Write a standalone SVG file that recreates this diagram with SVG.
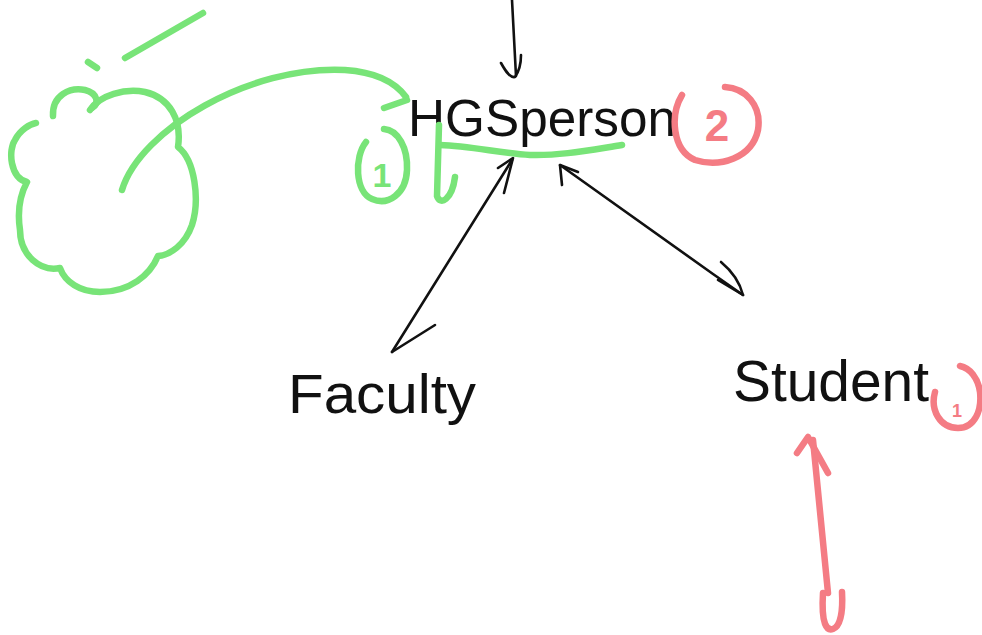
<svg xmlns="http://www.w3.org/2000/svg" width="982" height="635" viewBox="0 0 982 635">
<style>
.bg{fill:#ffffff}
.lbl{font-family:"Liberation Sans","DejaVu Sans",sans-serif;fill:#111111}
.g{fill:none;stroke:#78e478;stroke-width:6.5;stroke-linecap:round;stroke-linejoin:round}
.r{fill:none;stroke:#f47c84;stroke-width:6.5;stroke-linecap:round;stroke-linejoin:round}
.k{fill:none;stroke:#111111;stroke-width:2.6;stroke-linecap:round;stroke-linejoin:round}
.gt{font-family:"Liberation Sans","DejaVu Sans",sans-serif;fill:#78e478;font-weight:bold}
.rt{font-family:"Liberation Sans","DejaVu Sans",sans-serif;fill:#f47c84;font-weight:bold}
</style>
<rect class="bg" x="0" y="0" width="982" height="635"/>

<g id="cloud">
<path class="g" d="M53,116 C52,95 70,87 85,90 C97,93 100,103 92,108"/>
<path class="g" d="M90,110 C100,95 125,88 145,92 C170,98 182,120 178,147 C195,160 200,200 192,225 C185,245 170,255 158,256 C150,275 130,292 100,292 C80,292 65,282 60,268 C40,272 20,255 20,230 C17,210 20,195 27,182 C10,178 8,150 15,140 C20,130 30,124 36,123"/>
<path class="g" d="M125,58 L203,13"/>
<path class="g" d="M88,62 L97,68"/>
</g>

<g id="hgsperson">
<text class="lbl" x="408" y="136" font-size="52" textLength="268" lengthAdjust="spacingAndGlyphs">HGSperson</text>
</g>

<g id="faculty">
<text class="lbl" x="288" y="413" font-size="56" textLength="188" lengthAdjust="spacingAndGlyphs">Faculty</text>
</g>

<g id="student">
<text class="lbl" x="733" y="401" font-size="58" textLength="196" lengthAdjust="spacingAndGlyphs">Student</text>
</g>

<g id="badge1">
<path class="g" d="M366,142 C354,157 355,192 372,199 C388,206 406,194 407,170 C408,148 398,130 384,129"/>
<text class="gt" x="382" y="187" font-size="34" text-anchor="middle">1</text>
</g>

<g id="badge2">
<path class="r" d="M682,95 C670,115 672,150 695,160 C720,168 752,158 758,130 C762,105 745,88 725,87"/>
<text class="rt" x="717" y="141" font-size="44" text-anchor="middle">2</text>
</g>

<g id="badge3">
<path class="r" d="M935,392 C930,410 940,428 958,428 C975,428 982,410 980,392 C978,378 970,368 960,366"/>
<text class="rt" x="957" y="417" font-size="18" text-anchor="middle">1</text>
</g>

<g id="connectors">
<path class="k" d="M512,0 L516,76"/>
<path class="k" d="M501,63 C506,72 510,78 515,77 C520,70 521,62 521,55"/>

<path class="k" d="M512,160 L392,352"/>
<path class="k" d="M498,168 L513,158 L504,193"/>
<path class="k" d="M392,352 L435,325"/>

<path class="k" d="M560,165 L713,274 L743,295"/>
<path class="k" d="M562,185 L560,165 L578,172"/>
<path class="k" d="M721,262 C733,272 740,283 743,295 L718,280"/>

<path class="g" d="M122,190 C140,130 250,65 345,70 C375,72 395,82 406,97"/>
<path class="g" d="M384,108 L407,100"/>

<path class="g" d="M622,145 C590,150 560,156 530,155 C500,153 470,146 440,145"/>
<path class="g" d="M439,125 L437,196 C440,206 452,200 455,177"/>

<path class="r" d="M828,593 L813,440"/>
<path class="r" d="M797,453 L808,437 L828,473"/>
<path class="r" d="M823,593 C821,625 827,631 833,629 C841,626 843,610 842,592"/>
</g>
</svg>
